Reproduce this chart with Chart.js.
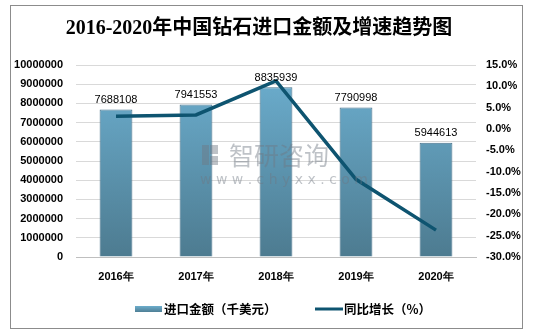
<!DOCTYPE html>
<html lang="zh">
<head>
<meta charset="UTF-8">
<title>2016-2020年中国钻石进口金额及增速趋势图</title>
<script src="https://cdn.jsdelivr.net/npm/chart.js"></script>
<style>
    body { margin: 0; background: #fff; }
    #box {
        position: absolute; left: 10px; top: 5px;
        width: 511px; height: 322px;
        border: 1px solid #8c8c8c;
    }
</style>
</head>
<body>
<div id="box"><canvas id="chart" width="511" height="322"></canvas></div>
<script>
    // data
    const years = ['2016年', '2017年', '2018年', '2019年', '2020年'];
    const importValue = [7688108, 7941553, 8835939, 7790998, 5944613]; // 千美元
    const growthRate = [3.0, 3.3, 11.3, -11.8, -23.7]; // %

    const titleText = '2016-2020年中国钻石进口金额及增速趋势图';
    const barLabel = '进口金额（千美元）';
    const lineLabel = '同比增长（%）';

    const tickFont = { family: 'Liberation Sans', size: 11, weight: 'bold' };

    // title, value labels, watermark and legend
    const decor = {
        id: 'decor',
        afterDatasetsDraw(chart) {
            const c = chart.ctx;
            c.save();
            // watermark, sits over the bars
            c.fillStyle = 'rgba(110,120,130,0.45)';
            c.textBaseline = 'middle';
            c.fillRect(191, 139, 7, 20);
            c.fillRect(199, 139, 8, 9);
            c.fillRect(199, 150, 8, 9);
            c.font = '25px "Noto Sans CJK SC"';
            c.fillText('智研咨询', 218, 149);
            c.font = '14px "DejaVu Sans"';
            c.fillText('w w w . c h y x x . c o m', 189, 174);

            c.fillStyle = '#000';
            c.font = 'bold 20px "Liberation Serif", "Noto Sans CJK SC"';
            c.textAlign = 'center';
            c.textBaseline = 'middle';
            c.fillText(titleText, 248, 23);

            c.font = '11px "Liberation Sans"';
            c.textBaseline = 'bottom';
            chart.getDatasetMeta(1).data.forEach((bar, i) => {
                c.fillText(importValue[i], bar.x, bar.y - 4);
            });

            // legend
            const ly = 303;
            const g = c.createLinearGradient(0, ly - 3, 0, ly + 3);
            g.addColorStop(0, '#6cadcc');
            g.addColorStop(1, '#4f7f95');
            c.fillStyle = g;
            c.fillRect(124, ly - 3, 27, 6);
            c.fillStyle = '#000';
            c.font = 'bold 12.5px "Noto Sans CJK SC"';
            c.textAlign = 'left';
            c.textBaseline = 'middle';
            c.fillText(barLabel, 153, ly);
            c.strokeStyle = '#0e5470';
            c.lineWidth = 3;
            c.beginPath();
            c.moveTo(304, ly);
            c.lineTo(332, ly);
            c.stroke();
            c.fillText(lineLabel, 333, ly);
            c.restore();
        }
    };

    const ctx = document.getElementById('chart').getContext('2d');
    new Chart(ctx, {
        data: {
            labels: years,
            datasets: [{
                type: 'line',
                label: lineLabel,
                data: growthRate,
                yAxisID: 'y1',
                borderColor: '#0e5470',
                borderWidth: 3.5,
                pointRadius: 0,
                tension: 0,
                order: 0
            }, {
                type: 'bar',
                label: barLabel,
                data: importValue,
                yAxisID: 'y',
                backgroundColor: function (context) {
                    const area = context.chart.chartArea;
                    if (!area) return '#5f98b5';
                    const g = context.chart.ctx.createLinearGradient(0, area.top, 0, area.bottom);
                    g.addColorStop(0, '#6db0d1');
                    g.addColorStop(1, '#4d7b90');
                    return g;
                },
                borderColor: '#46718a',
                borderWidth: 1,
                barPercentage: 0.82,
                categoryPercentage: 0.5,
                order: 1
            }]
        },
        options: {
            responsive: false,
            animation: false,
            layout: { padding: { top: 59, left: 0, right: 0, bottom: 0 } },
            plugins: {
                legend: { display: false },
                tooltip: { enabled: false }
            },
            scales: {
                x: {
                    grid: { display: false, drawTicks: false },
                    border: { color: '#bfbfbf' },
                    ticks: { color: '#000', font: tickFont, padding: 13 },
                    afterFit(s) { s.height = 71; }
                },
                y: {
                    position: 'left',
                    min: 0,
                    max: 10000000,
                    grid: { color: '#d9d9d9', drawTicks: false },
                    border: { display: false },
                    ticks: {
                        stepSize: 1000000,
                        color: '#000',
                        font: tickFont,
                        padding: 13,
                        callback: v => String(v)
                    },
                    afterFit(s) { s.width = 65; }
                },
                y1: {
                    position: 'right',
                    min: -30,
                    max: 15,
                    grid: { display: false, drawTicks: false },
                    border: { display: false },
                    ticks: {
                        stepSize: 5,
                        color: '#000',
                        font: tickFont,
                        padding: 10,
                        callback: v => v.toFixed(1) + '%'
                    },
                    afterFit(s) { s.width = 46; }
                }
            }
        },
        plugins: [decor]
    });
</script>
</body>
</html>
